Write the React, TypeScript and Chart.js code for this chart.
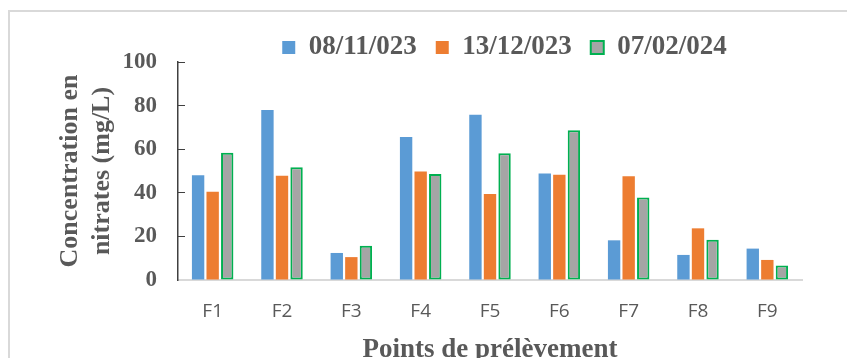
import React, { useEffect, useRef } from 'react';
import { Chart, registerables } from 'chart.js';

Chart.register(...registerables);

const categories = ['F1', 'F2', 'F3', 'F4', 'F5', 'F6', 'F7', 'F8', 'F9'];
const seriesLabels = ['08/11/023', '13/12/023', '07/02/024'];
const valuesNov2023 = [48, 78, 12.4, 65.6, 75.8, 48.9, 18.2, 11.5, 14.4];
const valuesDec2023 = [40.5, 47.8, 10.5, 49.8, 39.4, 48.3, 47.6, 23.7, 9.2];
const valuesFeb2024 = [58.4, 51.7, 15.7, 48.6, 58.1, 68.7, 37.9, 18.5, 6.6];
const yTicks = [0, 20, 40, 60, 80, 100];
const yTitle = ['Concentration en', 'nitrates (mg/L)'];
const xTitle = 'Points de prélèvement';

const SERIF = '"Liberation Serif", "Times New Roman", serif';
const SANS = '"Open Sans", "Liberation Sans", sans-serif';
const TEXT = '#595959';

export default function App() {
  const canvasRef = useRef<HTMLCanvasElement | null>(null);

  useEffect(() => {
    const canvas = canvasRef.current;
    if (!canvas) return;
    const common = { categoryPercentage: 0.63, barPercentage: 0.85 };
    const chart = new Chart(canvas, {
      type: 'bar',
      data: {
        labels: categories,
        datasets: [
          { label: seriesLabels[0], data: valuesNov2023, backgroundColor: '#5B9BD5', borderWidth: 0, ...common },
          { label: seriesLabels[1], data: valuesDec2023, backgroundColor: '#ED7D31', borderWidth: 0, ...common },
          {
            label: seriesLabels[2],
            data: valuesFeb2024,
            backgroundColor: '#A5A5A5',
            borderColor: '#00B050',
            borderWidth: 2,
            borderSkipped: false,
            ...common,
          },
        ],
      },
      options: {
        responsive: false,
        animation: false,
        layout: { padding: { top: 15, left: 0, right: 0, bottom: 0 } },
        plugins: {
          tooltip: { enabled: false },
          legend: {
            display: true,
            position: 'top',
            maxHeight: 47,
            labels: {
              boxWidth: 13,
              boxHeight: 13,
              padding: 19,
              color: TEXT,
              font: { family: SERIF, size: 27, weight: 'bold' },
            },
          },
        },
        scales: {
          x: {
            grid: { display: false, drawTicks: false },
            border: { display: true, color: '#D9D9D9', width: 2 },
            ticks: {
              color: TEXT,
              padding: 20,
              autoSkip: false,
              maxRotation: 0,
              font: { family: SANS, size: 19 },
            },
            title: {
              display: true,
              text: xTitle,
              color: TEXT,
              font: { family: SERIF, size: 27, weight: 'bold', lineHeight: 1.2 },
              padding: { top: 0, bottom: -8 },
            },
            afterFit: (s: any) => {
              s.height = 78;
            },
          },
          y: {
            min: 0,
            max: 100,
            afterBuildTicks: (s: any) => {
              s.ticks = yTicks.map((v) => ({ value: v }));
            },
            grid: { drawOnChartArea: false, drawTicks: true, tickLength: -7, color: '#404040', lineWidth: 1 },
            border: { display: true, color: '#404040', width: 1.5 },
            ticks: {
              color: TEXT,
              padding: 28,
              font: { family: SERIF, size: 23, weight: 'bold' },
            },
            title: {
              display: true,
              text: yTitle,
              color: TEXT,
              font: { family: SERIF, size: 26, weight: 'bold', lineHeight: 1.2 },
              padding: { top: 55, bottom: 0 },
            },
            afterFit: (s: any) => {
              s.width = 178;
            },
          },
          y2: {
            position: 'right',
            display: true,
            grid: { display: false, drawTicks: false },
            border: { display: false },
            ticks: { display: false },
            afterFit: (s: any) => {
              s.width = 207;
            },
          },
        },
      },
    } as any);
    return () => chart.destroy();
  }, []);

  return (
    <div
      style={{
        position: 'absolute',
        left: 0,
        top: 0,
        width: 847,
        height: 358,
        overflow: 'hidden',
        background: '#ffffff',
      }}
    >
      <div
        style={{
          position: 'absolute',
          left: 8,
          top: 10,
          width: 1000,
          height: 500,
          border: '2px solid #D9D9D9',
          boxSizing: 'border-box',
        }}
      />
      <canvas
        ref={canvasRef}
        width={1009}
        height={358}
        style={{ position: 'absolute', left: 0, top: 0, width: 1009, height: 358 }}
      />
    </div>
  );
}
